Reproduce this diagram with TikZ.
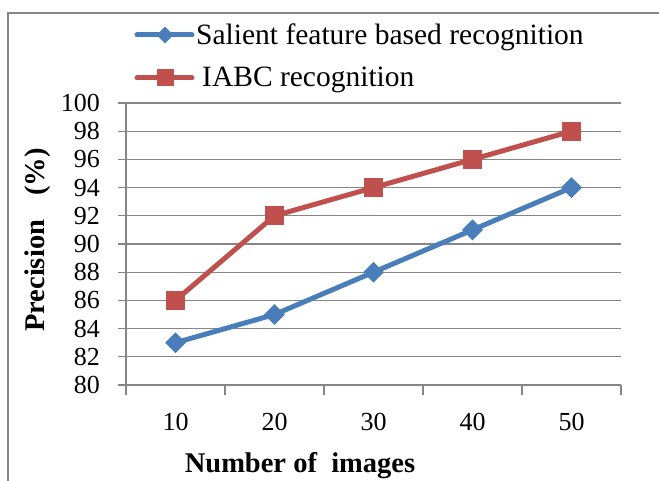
\documentclass[tikz,border=0pt]{standalone}
\usepackage{fontspec}
\setmainfont{Liberation Serif}
\usepackage{tikz}
\usetikzlibrary{shapes.geometric, positioning}
\definecolor{serblue}{RGB}{74,126,187}
\definecolor{serred}{RGB}{192,80,77}
\definecolor{gridgray}{RGB}{134,134,134}
\tikzset{
  gridline/.style={color=gridgray, line width=1.3pt},
  frameline/.style={color=gridgray, line width=1.6pt},
  blueline/.style={color=serblue, line width=5pt, line join=round, line cap=round},
  redline/.style={color=serred, line width=5pt, line join=round, line cap=round},
  bluemark/.style={diamond, fill=serblue, minimum width=21pt, minimum height=21pt, inner sep=0pt},
  redmark/.style={rectangle, fill=serred, minimum size=19pt, inner sep=0pt},
  ticklabel/.style={font=\fontsize{26}{30}\selectfont, inner sep=0pt},
  legendtext/.style={font=\fontsize{29.5}{34}\selectfont, anchor=base west, inner sep=0pt},
  axistitle/.style={font=\fontsize{28.5}{33}\selectfont\bfseries, inner sep=0pt}
}

\begin{document}
\begin{tikzpicture}[x=1pt, y=1pt]
  \useasboundingbox (0,0) rectangle (659,480);
  % chart frame
  \draw[frameline] (8,-20) -- (8,467) -- (680,467);

  % legend
  \coordinate (lega) at (137,445);
  \coordinate (legb) at (192,445);
  \draw[blueline] (lega) -- (legb);
  \node[bluemark, minimum width=17pt, minimum height=17pt] (legbm) at (165,445) {};
  \node[legendtext] (legbt) at (196,435) {Salient feature based recognition};
  \coordinate (legc) at (137,402);
  \coordinate (legd) at (192,402);
  \draw[redline] (legc) -- (legd);
  \node[redmark, minimum size=17pt] (legrm) at (165,402) {};
  \node[legendtext] (legrt) at (202,393) {IABC recognition};

  % plot area
  \begin{scope}[shift={(126,95)}, x=9.9pt, y=14.1pt]
    \foreach \v in {80,82,...,100}{
      \pgfmathtruncatemacro\y{\v-80}
      \draw[gridline] (-0.8,\y) -- (50,\y);
      \node[ticklabel, anchor=east, xshift=-26pt] (yl\v) at (0,\y) {\v};
    }
    \draw[gridline] (0,0) -- (0,20);
    \foreach \k in {0,10,...,50}
      \draw[gridline] (\k,0) -- (\k,-0.7);
    \foreach \n in {10,20,...,50}
      \node[ticklabel, anchor=base, yshift=-45pt] (xl\n) at (\n-5,0) {\n};

    % data
    \foreach \n/\s/\r [count=\i] in {10/83/86, 20/85/92, 30/88/94, 40/91/96, 50/94/98}{
      \coordinate (s\i) at (\n-5,\s-80);
      \coordinate (r\i) at (\n-5,\r-80);
    }
    \draw[blueline] (s1) -- (s2) -- (s3) -- (s4) -- (s5);
    \draw[redline] (r1) -- (r2) -- (r3) -- (r4) -- (r5);
    \foreach \i in {1,...,5}{
      \node[bluemark] (sm\i) at (s\i) {};
      \node[redmark] (rm\i) at (r\i) {};
    }
  \end{scope}

  % axis titles
  \node[axistitle, rotate=90, anchor=base] (ytitle) at (44,240) {Precision\hspace{0.85em}(\%)};
  \node[axistitle, anchor=base] (xtitle) at (300,8) {Number of\ \ images};
\end{tikzpicture}
\end{document}
